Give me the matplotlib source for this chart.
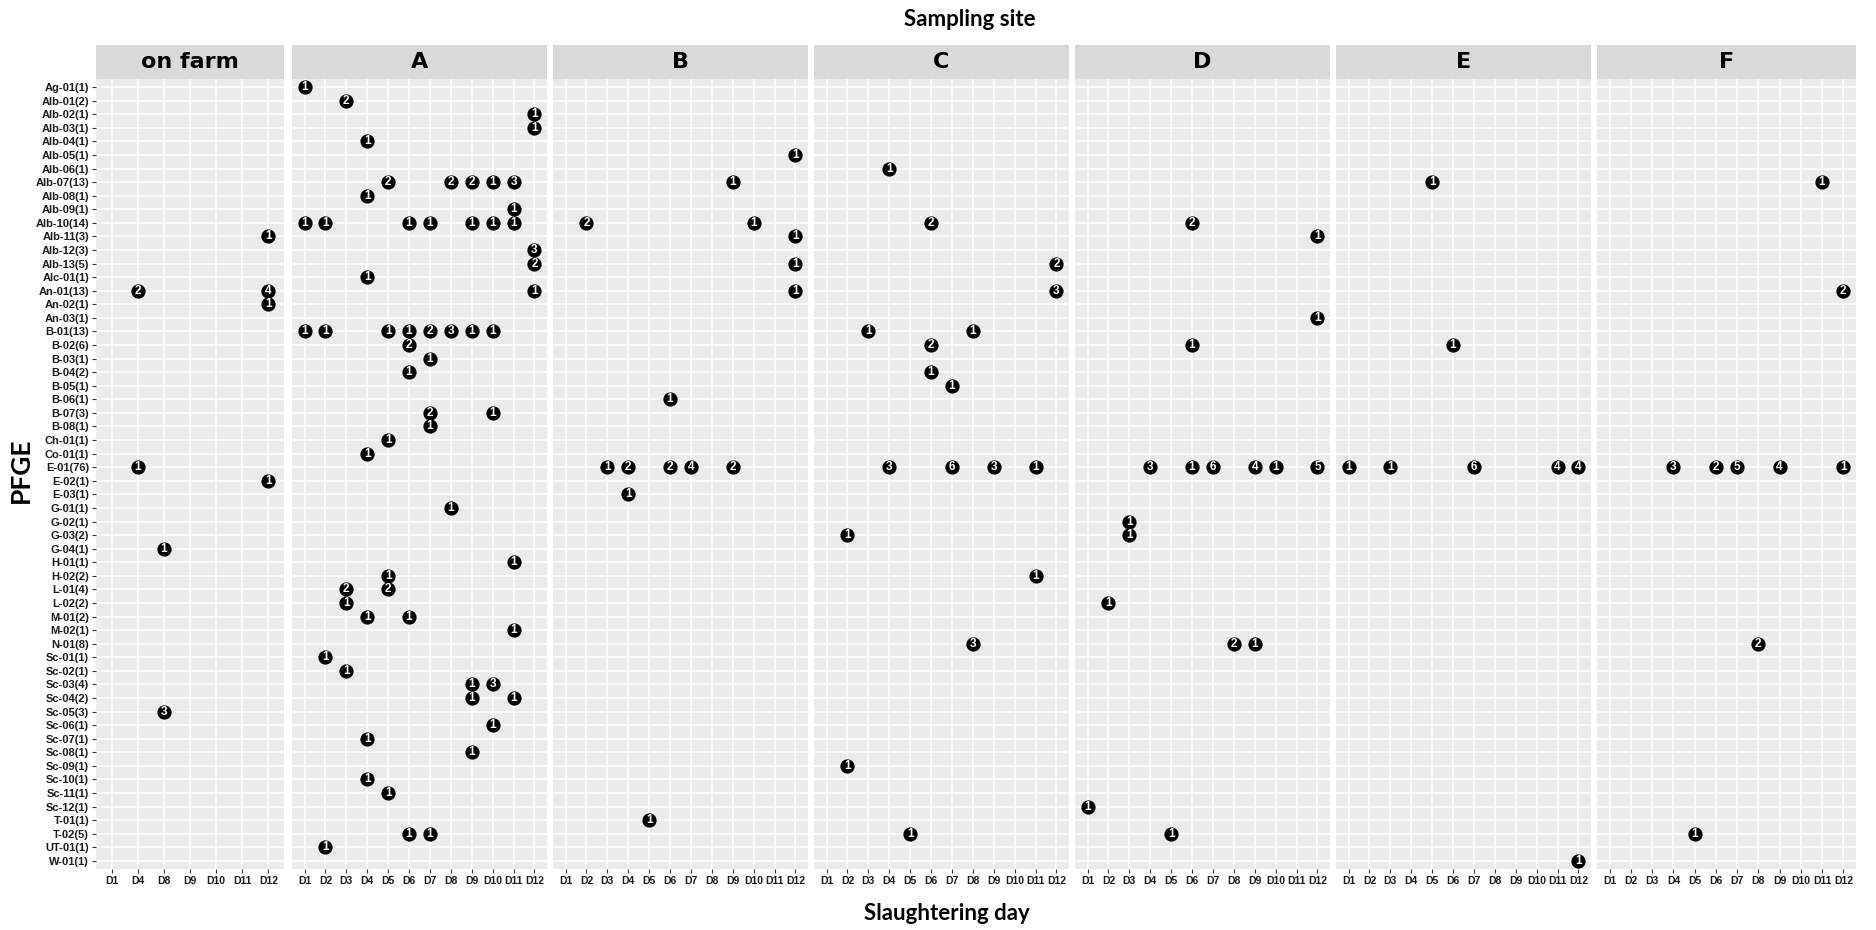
import matplotlib.pyplot as plt

# PFGE types (top to bottom) and slaughtering days
pfge = ["Ag-01(1)", "Alb-01(2)", "Alb-02(1)", "Alb-03(1)", "Alb-04(1)", "Alb-05(1)",
        "Alb-06(1)", "Alb-07(13)", "Alb-08(1)", "Alb-09(1)", "Alb-10(14)", "Alb-11(3)",
        "Alb-12(3)", "Alb-13(5)", "Alc-01(1)", "An-01(13)", "An-02(1)", "An-03(1)",
        "B-01(13)", "B-02(6)", "B-03(1)", "B-04(2)", "B-05(1)", "B-06(1)", "B-07(3)",
        "B-08(1)", "Ch-01(1)", "Co-01(1)", "E-01(76)", "E-02(1)", "E-03(1)", "G-01(1)",
        "G-02(1)", "G-03(2)", "G-04(1)", "H-01(1)", "H-02(2)", "L-01(4)", "L-02(2)",
        "M-01(2)", "M-02(1)", "N-01(8)", "Sc-01(1)", "Sc-02(1)", "Sc-03(4)", "Sc-04(2)",
        "Sc-05(3)", "Sc-06(1)", "Sc-07(1)", "Sc-08(1)", "Sc-09(1)", "Sc-10(1)",
        "Sc-11(1)", "Sc-12(1)", "T-01(1)", "T-02(5)", "UT-01(1)", "W-01(1)"]
days = ["D1", "D2", "D3", "D4", "D5", "D6", "D7", "D8", "D9", "D10", "D11", "D12"]
farm_days = ["D1", "D4", "D8", "D9", "D10", "D11", "D12"]
sites = ["on farm", "A", "B", "C", "D", "E", "F"]

# (pfge type, day, number of isolates)
on_farm = [("An-01(13)", "D4", 2), ("E-01(76)", "D4", 1), ("G-04(1)", "D8", 1),
           ("Sc-05(3)", "D8", 3), ("Alb-11(3)", "D12", 1), ("An-01(13)", "D12", 4),
           ("An-02(1)", "D12", 1), ("E-02(1)", "D12", 1)]

site_a = [("Ag-01(1)", "D1", 1), ("Alb-01(2)", "D3", 2), ("Alb-02(1)", "D12", 1),
          ("Alb-03(1)", "D12", 1), ("Alb-04(1)", "D4", 1),
          ("Alb-07(13)", "D5", 2), ("Alb-07(13)", "D8", 2), ("Alb-07(13)", "D9", 2),
          ("Alb-07(13)", "D10", 1), ("Alb-07(13)", "D11", 3),
          ("Alb-08(1)", "D4", 1), ("Alb-09(1)", "D11", 1),
          ("Alb-10(14)", "D1", 1), ("Alb-10(14)", "D2", 1), ("Alb-10(14)", "D6", 1),
          ("Alb-10(14)", "D7", 1), ("Alb-10(14)", "D9", 1), ("Alb-10(14)", "D10", 1),
          ("Alb-10(14)", "D11", 1),
          ("Alb-12(3)", "D12", 3), ("Alb-13(5)", "D12", 2), ("Alc-01(1)", "D4", 1),
          ("An-01(13)", "D12", 1),
          ("B-01(13)", "D1", 1), ("B-01(13)", "D2", 1), ("B-01(13)", "D5", 1),
          ("B-01(13)", "D6", 1), ("B-01(13)", "D7", 2), ("B-01(13)", "D8", 3),
          ("B-01(13)", "D9", 1), ("B-01(13)", "D10", 1),
          ("B-02(6)", "D6", 2), ("B-03(1)", "D7", 1), ("B-04(2)", "D6", 1),
          ("B-07(3)", "D7", 2), ("B-07(3)", "D10", 1), ("B-08(1)", "D7", 1),
          ("Ch-01(1)", "D5", 1), ("Co-01(1)", "D4", 1), ("G-01(1)", "D8", 1),
          ("H-01(1)", "D11", 1), ("H-02(2)", "D5", 1),
          ("L-01(4)", "D3", 2), ("L-01(4)", "D5", 2), ("L-02(2)", "D3", 1),
          ("M-01(2)", "D4", 1), ("M-01(2)", "D6", 1), ("M-02(1)", "D11", 1),
          ("Sc-01(1)", "D2", 1), ("Sc-02(1)", "D3", 1),
          ("Sc-03(4)", "D9", 1), ("Sc-03(4)", "D10", 3),
          ("Sc-04(2)", "D9", 1), ("Sc-04(2)", "D11", 1),
          ("Sc-06(1)", "D10", 1), ("Sc-07(1)", "D4", 1), ("Sc-08(1)", "D9", 1),
          ("Sc-10(1)", "D4", 1), ("Sc-11(1)", "D5", 1),
          ("T-02(5)", "D6", 1), ("T-02(5)", "D7", 1), ("UT-01(1)", "D2", 1)]

site_b = [("Alb-05(1)", "D12", 1), ("Alb-07(13)", "D9", 1),
          ("Alb-10(14)", "D2", 2), ("Alb-10(14)", "D10", 1),
          ("Alb-11(3)", "D12", 1), ("Alb-13(5)", "D12", 1), ("An-01(13)", "D12", 1),
          ("B-06(1)", "D6", 1),
          ("E-01(76)", "D3", 1), ("E-01(76)", "D4", 2), ("E-01(76)", "D6", 2),
          ("E-01(76)", "D7", 4), ("E-01(76)", "D9", 2),
          ("E-03(1)", "D4", 1), ("T-01(1)", "D5", 1)]

site_c = [("Alb-06(1)", "D4", 1), ("Alb-10(14)", "D6", 2), ("Alb-13(5)", "D12", 2),
          ("An-01(13)", "D12", 3), ("B-01(13)", "D3", 1), ("B-01(13)", "D8", 1),
          ("B-02(6)", "D6", 2), ("B-04(2)", "D6", 1), ("B-05(1)", "D7", 1),
          ("E-01(76)", "D4", 3), ("E-01(76)", "D7", 6), ("E-01(76)", "D9", 3),
          ("E-01(76)", "D11", 1),
          ("G-03(2)", "D2", 1), ("H-02(2)", "D11", 1), ("N-01(8)", "D8", 3),
          ("Sc-09(1)", "D2", 1), ("T-02(5)", "D5", 1)]

site_d = [("Alb-10(14)", "D6", 2), ("Alb-11(3)", "D12", 1), ("An-03(1)", "D12", 1),
          ("B-02(6)", "D6", 1),
          ("E-01(76)", "D4", 3), ("E-01(76)", "D6", 1), ("E-01(76)", "D7", 6),
          ("E-01(76)", "D9", 4), ("E-01(76)", "D10", 1), ("E-01(76)", "D12", 5),
          ("G-02(1)", "D3", 1), ("G-03(2)", "D3", 1), ("L-02(2)", "D2", 1),
          ("N-01(8)", "D8", 2), ("N-01(8)", "D9", 1),
          ("Sc-12(1)", "D1", 1), ("T-02(5)", "D5", 1)]

site_e = [("Alb-07(13)", "D5", 1), ("B-02(6)", "D6", 1),
          ("E-01(76)", "D1", 1), ("E-01(76)", "D3", 1), ("E-01(76)", "D7", 6),
          ("E-01(76)", "D11", 4), ("E-01(76)", "D12", 4),
          ("W-01(1)", "D12", 1)]

site_f = [("Alb-07(13)", "D11", 1), ("An-01(13)", "D12", 2),
          ("E-01(76)", "D4", 3), ("E-01(76)", "D6", 2), ("E-01(76)", "D7", 5),
          ("E-01(76)", "D9", 4), ("E-01(76)", "D12", 1),
          ("N-01(8)", "D8", 2), ("T-02(5)", "D5", 1)]

site_points = [on_farm, site_a, site_b, site_c, site_d, site_e, site_f]
site_days = [farm_days] + [days] * 6

W, H = 1876, 930
fig = plt.figure(figsize=(W / 100, H / 100), dpi=100)

tick_font = "Liberation Sans"
title_font = "Lato"

# panel layout in pixels
panel_top, panel_bot = 79, 869
strip_top = 45
lefts = [96, 292, 553, 814, 1075, 1336, 1597]
widths = [188, 255, 255, 255, 255, 255, 259]

for k, site in enumerate(sites):
    x0, w = lefts[k], widths[k]
    ax = fig.add_axes([x0 / W, 1 - panel_bot / H, w / W, (panel_bot - panel_top) / H])
    ax.set_facecolor("#EBEBEB")
    dlist = site_days[k]
    pts = site_points[k]
    xs = [dlist.index(d) for _, d, _ in pts]
    ys = [pfge.index(p) for p, _, _ in pts]
    ax.scatter(xs, ys, s=105, color="black", zorder=3, linewidths=0)
    for (p, d, n), x, y in zip(pts, xs, ys):
        ax.text(x, y, str(n), color="white", fontsize=8.5, fontweight="bold",
                family=tick_font, ha="center", va="center", zorder=4)

    ax.set_xlim(-0.6, len(dlist) - 0.4)
    ax.set_ylim(len(pfge) - 0.4, -0.6)
    ax.set_xticks(range(len(dlist)))
    ax.set_xticklabels(dlist, fontsize=7.5, fontweight="bold", family=tick_font)
    ax.set_yticks(range(len(pfge)))
    ax.tick_params(colors="#333333", length=3, width=0.8, pad=2)
    if k == 0:
        ax.set_yticklabels(pfge, fontsize=8, fontweight="bold", family=tick_font)
    else:
        ax.set_yticklabels([])
        ax.tick_params(axis="y", length=0)
    for lab in ax.get_xticklabels() + ax.get_yticklabels():
        lab.set_color("#1A1A1A")
    ax.grid(True, color="white", linewidth=1.1)
    ax.set_axisbelow(True)
    for s in ax.spines.values():
        s.set_visible(False)

    # facet strip
    sax = fig.add_axes([x0 / W, 1 - panel_top / H, w / W, (panel_top - strip_top) / H])
    sax.set_facecolor("#D9D9D9")
    sax.set_xticks([])
    sax.set_yticks([])
    for s in sax.spines.values():
        s.set_visible(False)
    sax.text(0.5, 0.5, site, ha="center", va="center", fontsize=16,
             fontweight="bold", family="DejaVu Sans", transform=sax.transAxes)

fig.text(970 / W, 1 - 20 / H, "Sampling site", ha="center", va="center",
         fontsize=16, fontweight="bold", family=title_font)
fig.text(947 / W, 1 - 913 / H, "Slaughtering day", ha="center", va="center",
         fontsize=16, fontweight="bold", family=title_font)
fig.text(21 / W, 1 - 470 / H, "PFGE", ha="center", va="center", rotation=90,
         fontsize=19, fontweight="bold", family=title_font)

fig.savefig("out.png", dpi=100)
